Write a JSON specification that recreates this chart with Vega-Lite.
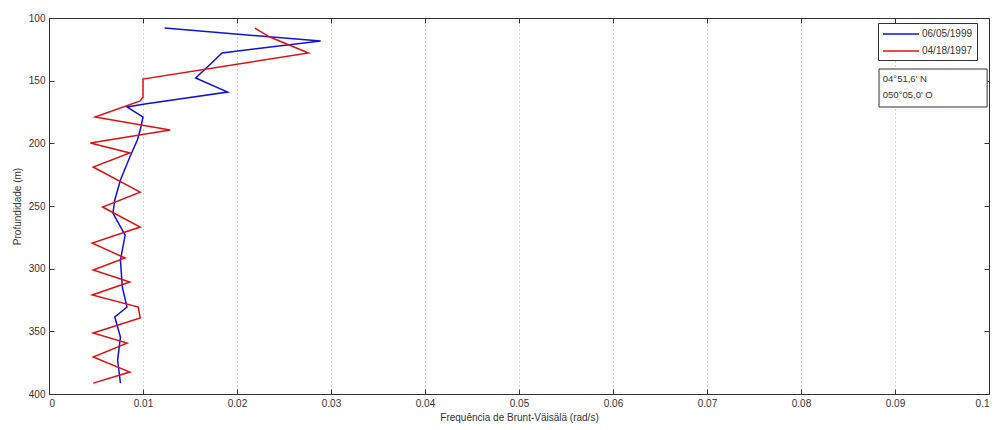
{
  "$schema": "https://vega.github.io/schema/vega-lite/v6.json",
  "width": 940,
  "height": 376,
  "autosize": "none",
  "padding": {"left": 49, "top": 18, "right": 8, "bottom": 36},
  "background": "white",
  "config": {
    "view": {"stroke": "#333", "strokeWidth": 1},
    "font": "Liberation Sans",
    "axis": {
      "domainColor": "#333",
      "tickColor": "#333",
      "labelColor": "#333",
      "titleColor": "#333",
      "labelFont": "Liberation Sans",
      "titleFont": "Liberation Sans",
      "labelFontSize": 10,
      "titleFontSize": 10,
      "titleFontWeight": "normal",
      "tickSize": -5,
      "labelPadding": 9
    }
  },
  "datasets": {
    "profiles": [
      {"series": "06/05/1999", "i": 1, "freq": 0.0123, "depth": 108.0},
      {"series": "06/05/1999", "i": 2, "freq": 0.0289, "depth": 118.4},
      {"series": "06/05/1999", "i": 3, "freq": 0.0184, "depth": 127.9},
      {"series": "06/05/1999", "i": 4, "freq": 0.0173, "depth": 135.9},
      {"series": "06/05/1999", "i": 5, "freq": 0.0156, "depth": 147.9},
      {"series": "06/05/1999", "i": 6, "freq": 0.0190, "depth": 159.1},
      {"series": "06/05/1999", "i": 7, "freq": 0.0102, "depth": 168.6},
      {"series": "06/05/1999", "i": 8, "freq": 0.0083, "depth": 171.0},
      {"series": "06/05/1999", "i": 9, "freq": 0.0100, "depth": 179.0},
      {"series": "06/05/1999", "i": 10, "freq": 0.0097, "depth": 189.4},
      {"series": "06/05/1999", "i": 11, "freq": 0.0094, "depth": 197.4},
      {"series": "06/05/1999", "i": 12, "freq": 0.0086, "depth": 210.9},
      {"series": "06/05/1999", "i": 13, "freq": 0.0076, "depth": 229.3},
      {"series": "06/05/1999", "i": 14, "freq": 0.0070, "depth": 245.2},
      {"series": "06/05/1999", "i": 15, "freq": 0.0068, "depth": 255.6},
      {"series": "06/05/1999", "i": 16, "freq": 0.0081, "depth": 273.2},
      {"series": "06/05/1999", "i": 17, "freq": 0.0076, "depth": 293.1},
      {"series": "06/05/1999", "i": 18, "freq": 0.0078, "depth": 314.7},
      {"series": "06/05/1999", "i": 19, "freq": 0.0083, "depth": 330.6},
      {"series": "06/05/1999", "i": 20, "freq": 0.0070, "depth": 338.6},
      {"series": "06/05/1999", "i": 21, "freq": 0.0076, "depth": 354.6},
      {"series": "06/05/1999", "i": 22, "freq": 0.0073, "depth": 372.9},
      {"series": "06/05/1999", "i": 23, "freq": 0.0076, "depth": 391.3},
      {"series": "04/18/1997", "i": 1, "freq": 0.0219, "depth": 108.0},
      {"series": "04/18/1997", "i": 2, "freq": 0.0235, "depth": 115.2},
      {"series": "04/18/1997", "i": 3, "freq": 0.0276, "depth": 127.9},
      {"series": "04/18/1997", "i": 4, "freq": 0.0100, "depth": 148.7},
      {"series": "04/18/1997", "i": 5, "freq": 0.0100, "depth": 163.0},
      {"series": "04/18/1997", "i": 6, "freq": 0.0097, "depth": 166.2},
      {"series": "04/18/1997", "i": 7, "freq": 0.0049, "depth": 179.0},
      {"series": "04/18/1997", "i": 8, "freq": 0.0129, "depth": 189.4},
      {"series": "04/18/1997", "i": 9, "freq": 0.0044, "depth": 199.8},
      {"series": "04/18/1997", "i": 10, "freq": 0.0086, "depth": 207.7},
      {"series": "04/18/1997", "i": 11, "freq": 0.0047, "depth": 218.9},
      {"series": "04/18/1997", "i": 12, "freq": 0.0097, "depth": 238.9},
      {"series": "04/18/1997", "i": 13, "freq": 0.0057, "depth": 250.8},
      {"series": "04/18/1997", "i": 14, "freq": 0.0097, "depth": 266.8},
      {"series": "04/18/1997", "i": 15, "freq": 0.0046, "depth": 279.6},
      {"series": "04/18/1997", "i": 16, "freq": 0.0081, "depth": 291.5},
      {"series": "04/18/1997", "i": 17, "freq": 0.0047, "depth": 301.1},
      {"series": "04/18/1997", "i": 18, "freq": 0.0086, "depth": 310.7},
      {"series": "04/18/1997", "i": 19, "freq": 0.0046, "depth": 321.0},
      {"series": "04/18/1997", "i": 20, "freq": 0.0095, "depth": 330.6},
      {"series": "04/18/1997", "i": 21, "freq": 0.0097, "depth": 339.4},
      {"series": "04/18/1997", "i": 22, "freq": 0.0047, "depth": 351.4},
      {"series": "04/18/1997", "i": 23, "freq": 0.0083, "depth": 359.4},
      {"series": "04/18/1997", "i": 24, "freq": 0.0047, "depth": 370.5},
      {"series": "04/18/1997", "i": 25, "freq": 0.0086, "depth": 382.5},
      {"series": "04/18/1997", "i": 26, "freq": 0.0047, "depth": 391.3}
    ],
    "info": [{"label": "04°51,6' N\n050°05,0' O"}]
  },
  "layer": [
    {
      "data": {"name": "profiles"},
      "mark": {"type": "line", "strokeWidth": 1.5},
      "encoding": {
        "x": {
          "field": "freq", "type": "quantitative",
          "scale": {"domain": [0, 0.1], "nice": false, "zero": false},
          "axis": {
            "orient": "bottom",
            "title": "Frequência de Brunt-Väisälä (rad/s)",
            "values": [0, 0.01, 0.02, 0.03, 0.04, 0.05, 0.06, 0.07, 0.08, 0.09, 0.1],
            "format": "~g",
            "grid": true, "gridColor": "#aaa", "gridDash": [1, 3],
            "titlePadding": 4
          }
        },
        "y": {
          "field": "depth", "type": "quantitative",
          "scale": {"domain": [100, 400], "nice": false, "zero": false, "reverse": true},
          "axis": {
            "orient": "left",
            "title": "Profundidade (m)",
            "values": [100, 150, 200, 250, 300, 350, 400],
            "grid": false,
            "titlePadding": 6
          }
        },
        "color": {
          "field": "series", "type": "nominal",
          "scale": {"domain": ["06/05/1999", "04/18/1997"], "range": ["#1010e0", "#e01010"]},
          "legend": {
            "orient": "none", "legendX": 829, "legendY": 5,
            "title": null,
            "symbolType": "M-3,0L3,0", "symbolSize": 144, "symbolStrokeWidth": 1.5,
            "symbolOffset": 12, "labelOffset": 14,
            "labelFontSize": 10, "labelColor": "#333", "labelFont": "Liberation Sans",
            "strokeColor": "#333", "fillColor": "white", "padding": 4, "rowPadding": 5
          }
        },
        "order": {"field": "i", "type": "quantitative"}
      }
    },
    {
      "data": {"name": "info"},
      "mark": {"type": "rect", "fill": "white", "stroke": "#333", "strokeWidth": 1},
      "encoding": {
        "x": {"datum": 0.0883, "type": "quantitative", "axis": {"orient": "top", "labels": false, "title": null, "grid": false, "values": [0, 0.01, 0.02, 0.03, 0.04, 0.05, 0.06, 0.07, 0.08, 0.09, 0.1]}},
        "x2": {"datum": 0.0998},
        "y": {"datum": 140.7, "type": "quantitative", "axis": {"orient": "right", "labels": false, "title": null, "grid": false, "values": [100, 150, 200, 250, 300, 350, 400]}},
        "y2": {"datum": 171.0}
      }
    },
    {
      "data": {"name": "info"},
      "mark": {"type": "text", "align": "left", "baseline": "top", "lineBreak": "\n", "lineHeight": 16, "fontSize": 9.5, "color": "#333", "font": "Liberation Sans"},
      "encoding": {
        "x": {"datum": 0.0887, "type": "quantitative", "axis": null},
        "y": {"datum": 145.0, "type": "quantitative", "axis": null},
        "text": {"field": "label"}
      }
    }
  ],
  "resolve": {"axis": {"x": "independent", "y": "independent"}}
}
